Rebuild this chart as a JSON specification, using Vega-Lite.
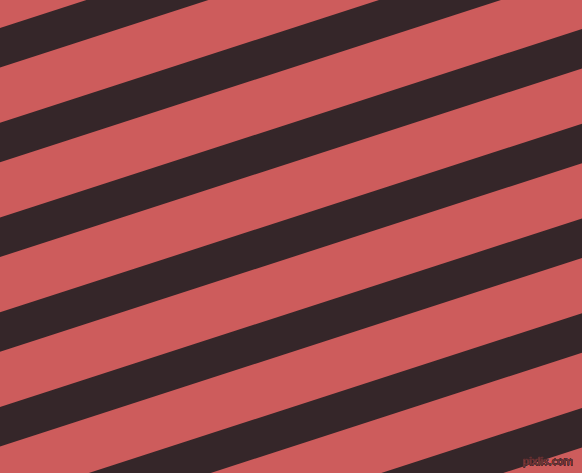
{
  "$schema": "https://vega.github.io/schema/vega-lite/v6.json",
  "width": 582,
  "height": 473,
  "padding": 0,
  "autosize": {"type": "fit", "contains": "padding"},
  "background": "#CD5C5C",
  "data": {
    "values": [
      {"stripe": 0, "x": 0, "top": 28, "bottom": 67.5},
      {"stripe": 0, "x": 582, "top": -160.5, "bottom": -121},
      {"stripe": 1, "x": 0, "top": 122.75, "bottom": 162.25},
      {"stripe": 1, "x": 582, "top": -65.75, "bottom": -26.25},
      {"stripe": 2, "x": 0, "top": 217.5, "bottom": 257},
      {"stripe": 2, "x": 582, "top": 29, "bottom": 68.5},
      {"stripe": 3, "x": 0, "top": 312.25, "bottom": 351.75},
      {"stripe": 3, "x": 582, "top": 123.75, "bottom": 163.25},
      {"stripe": 4, "x": 0, "top": 407, "bottom": 446.5},
      {"stripe": 4, "x": 582, "top": 218.5, "bottom": 258},
      {"stripe": 5, "x": 0, "top": 501.75, "bottom": 541.25},
      {"stripe": 5, "x": 582, "top": 313.25, "bottom": 352.75},
      {"stripe": 6, "x": 0, "top": 596.5, "bottom": 636},
      {"stripe": 6, "x": 582, "top": 408, "bottom": 447.5}
    ]
  },
  "layer": [
    {
      "mark": {"type": "area", "color": "#352629", "clip": true, "interpolate": "linear"},
      "encoding": {
        "x": {"field": "x", "type": "quantitative", "axis": null, "scale": {"domain": [0, 582], "nice": false, "zero": false}},
        "y": {"field": "top", "type": "quantitative", "axis": null, "scale": {"domain": [0, 473], "reverse": true, "nice": false, "zero": false}},
        "y2": {"field": "bottom"},
        "detail": {"field": "stripe", "type": "nominal"}
      }
    },
    {
      "mark": {"type": "text", "text": "pixlis.com", "align": "right", "baseline": "middle", "fontSize": 10, "font": "DejaVu Sans", "color": "#9e4444", "stroke": "#4a2a2c", "strokeWidth": 0.4},
      "encoding": {
        "x": {"datum": 573},
        "y": {"datum": 462}
      }
    }
  ],
  "config": {
    "view": {"stroke": null}
  }
}
